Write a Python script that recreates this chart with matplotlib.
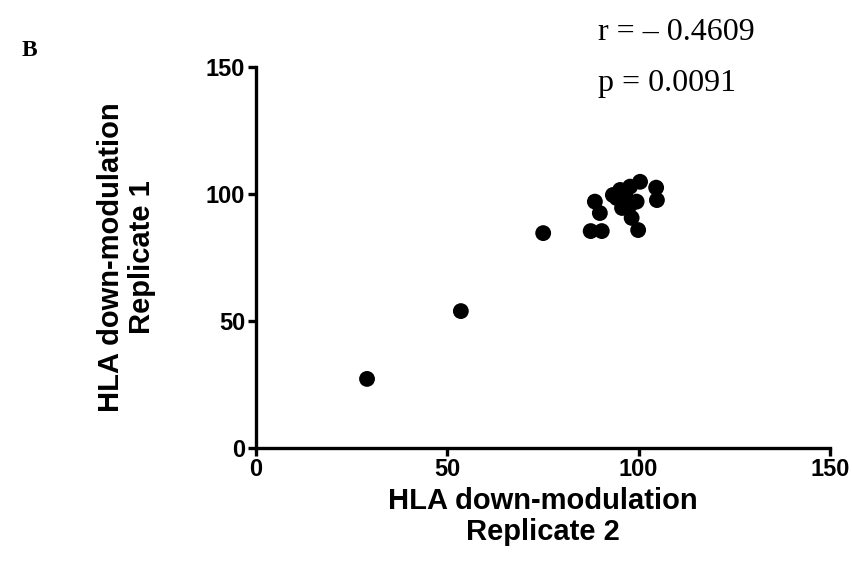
import matplotlib.pyplot as plt

# HLA down-modulation, replicate 2 (x) vs replicate 1 (y)
rep2 = [29.1, 53.6, 75.1,
        88.6, 89.9, 87.5, 90.4, 100.4, 104.6, 104.8, 95.2, 97.8,
        94.3, 97.8, 98.2, 99.9, 99.5, 93.3, 96.5, 95.7]
rep1 = [27.2, 53.9, 84.6,
        97.0, 92.5, 85.4, 85.4, 104.8, 102.5, 97.6, 101.6, 102.9,
        98.4, 95.7, 90.6, 85.8, 97.0, 99.6, 99.6, 94.5]
ticks = [0, 50, 100, 150]
r_text = 'r = \u2013 0.4609'
p_text = 'p = 0.0091'

fig = plt.figure(figsize=(8.53, 5.78), dpi=100)
ax = fig.add_axes([255.6 / 853, 1 - 448 / 578, (830 - 255.6) / 853, (448 - 67) / 578])

ax.scatter(rep2, rep1, s=130, color='black', edgecolors='none', zorder=3, clip_on=False)

ax.set_xlim(0, 150)
ax.set_ylim(0, 150)
ax.set_xticks(ticks)
ax.set_yticks(ticks)
for side in ['top', 'right']:
    ax.spines[side].set_visible(False)
for side in ['left', 'bottom']:
    ax.spines[side].set_linewidth(2.4)
ax.tick_params(width=2.4, length=5.5, labelsize=17, pad=2)
for lab in ax.get_xticklabels() + ax.get_yticklabels():
    lab.set_fontweight('bold')
    lab.set_fontfamily('Liberation Sans')

ax.set_xlabel('HLA down-modulation\nReplicate 2', fontsize=21, fontweight='bold',
              family='Liberation Sans', labelpad=4, linespacing=1.15)
ax.set_ylabel('HLA down-modulation\nReplicate 1', fontsize=21, fontweight='bold',
              family='Liberation Sans', labelpad=36, linespacing=1.15)

fig.text(598 / 853, 1 - 32 / 578, r_text, fontsize=23, family='Liberation Serif', va='center')
fig.text(598 / 853, 1 - 84 / 578, p_text, fontsize=23, family='Liberation Serif', va='center')
fig.text(22 / 853, 1 - 50 / 578, 'B', fontsize=17, fontweight='bold', family='Liberation Serif', va='center')

fig.savefig('out.png', dpi=100)
